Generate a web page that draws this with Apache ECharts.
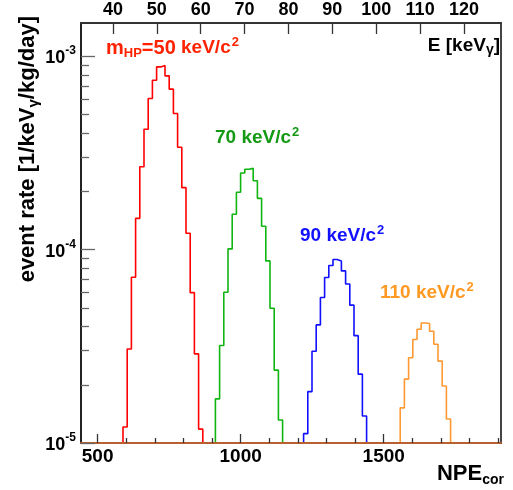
<!DOCTYPE html>
<html><head><meta charset="utf-8">
<script src="https://cdn.jsdelivr.net/npm/echarts@6/dist/echarts.min.js"></script>
<style>html,body{margin:0;padding:0;background:#fff}#c{width:513px;height:490px}</style>
</head><body><div id="c"></div>
<script>
// ---- data ----
const binLow = 442;        // NPE_cor of the first bin edge
const binWidth = 14.68;    // NPE_cor per bin
const binCount = 100;
const emptyLevel = 1e-5;   // bins at or below the axis floor

const redStart = 10;
const redValues = [1.21e-5, 3.06e-5, 7.19e-5, 1.45e-4, 2.68e-4, 4.19e-4, 6.04e-4, 7.51e-4, 8.80e-4, 8.95e-4, 7.91e-4, 6.75e-4, 5.05e-4, 3.38e-4, 2.09e-4, 1.215e-4, 5.99e-5, 2.89e-5, 1.18e-5];
const greenStart = 32;
const greenValues = [1.69e-5, 3.19e-5, 6.02e-5, 1.008e-4, 1.524e-4, 1.98e-4, 2.49e-4, 2.60e-4, 2.63e-4, 2.27e-4, 1.84e-4, 1.32e-4, 8.74e-5, 4.97e-5, 2.38e-5, 1.315e-5];
const blueStart = 53;
const blueValues = [1.118e-5, 1.844e-5, 2.98e-5, 4.08e-5, 5.65e-5, 7.17e-5, 8.27e-5, 8.88e-5, 8.74e-5, 7.76e-5, 6.64e-5, 5.16e-5, 3.59e-5, 2.27e-5, 1.38e-5];
const orangeStart = 76;
const orangeValues = [1.52e-5, 2.14e-5, 2.76e-5, 3.43e-5, 3.87e-5, 4.17e-5, 4.15e-5, 3.78e-5, 3.24e-5, 2.65e-5, 1.97e-5, 1.33e-5];

const seriesNames = ['50 keV/c²', '70 keV/c²', '90 keV/c²', '110 keV/c²'];

const npeRange = [442, 1910];
const npeTicks = [500, 1000, 1500];
const npeMinorTicks = [600, 700, 800, 900, 1100, 1200, 1300, 1400, 1600, 1700, 1800, 1900];
const energyRange = [32.72, 128.43];
const energyTicks = [40, 50, 60, 70, 80, 90, 100, 110, 120];
const rateRange = [0.99999e-5, 1.484e-3];
const rateTicks = [1e-5, 1e-4, 1e-3];
const rateMinorTicks = [2e-5, 3e-5, 4e-5, 5e-5, 6e-5, 7e-5, 8e-5, 9e-5, 2e-4, 3e-4, 4e-4, 5e-4, 6e-4, 7e-4, 8e-4, 9e-4];

// ---- build histogram step data ----
function histogram(start, values) {
  const pts = [];
  for (let k = 0; k < binCount; k++) {
    const i = k - start;
    const v = (i >= 0 && i < values.length) ? values[i] : emptyLevel;
    pts.push([binLow + k * binWidth, v]);
  }
  pts.push([binLow + binCount * binWidth, emptyLevel]);
  return pts;
}

const FONT = '"Liberation Sans", Arial, Helvetica, sans-serif';
const colors = ['#ff0000', '#11b511', '#1010ff', '#ff9933'];
const textColors = ['#ff2200', '#139913', '#1111ff', '#ff9922'];
const hists = [[redStart, redValues], [greenStart, greenValues], [blueStart, blueValues], [orangeStart, orangeValues]];

const chart = echarts.init(document.getElementById('c'), null, {renderer: 'canvas'});

function supLabel(value) {
  let e = value;
  if (value > 0) e = Math.round(Math.log10(value));
  e = Math.round(e);
  return '{b|10}{s|' + e + '}';
}
function plainLabel(value) { return String(Math.round(value)); }

function massLabel(x, y, color, prefix) {
  return {type: 'text', x: x, y: y, z: 10,
    style: {text: prefix + '{a| keV/c}{s|2}', align: 'left', verticalAlign: 'middle',
      rich: {
        a: {fontFamily: FONT, fontWeight: 'bold', fontSize: 19, fill: color, lineHeight: 24},
        m: {fontFamily: FONT, fontWeight: 'bold', fontSize: 20, fill: color, lineHeight: 24},
        h: {fontFamily: FONT, fontWeight: 'bold', fontSize: 13, fill: color, lineHeight: 24, verticalAlign: 'bottom', padding: [6, 0, 0, 0]},
        s: {fontFamily: FONT, fontWeight: 'bold', fontSize: 13, fill: color, lineHeight: 24, verticalAlign: 'top', padding: [0, 0, 9, 1]}
      }}};
}

const option = {
  animation: false,
  grid: {left: 81, right: 12, top: 23, bottom: 47, show: true, borderColor: '#444', borderWidth: 2, backgroundColor: 'transparent'},
  xAxis: [
    {
      type: 'value', position: 'bottom', min: npeRange[0], max: npeRange[1], z: 5,
      axisLine: {show: true, onZero: false, lineStyle: {color: '#b8602e', width: 2}},
      axisTick: {show: true, inside: true, length: 9, customValues: npeTicks, lineStyle: {color: '#333', width: 1.3}},
      axisLabel: {show: true, customValues: npeTicks, formatter: plainLabel, margin: 4, fontFamily: FONT, fontWeight: 'bold', fontSize: 19, color: '#000'},
      splitLine: {show: false}
    },
    {
      type: 'value', position: 'bottom', min: npeRange[0], max: npeRange[1], z: 5,
      axisLine: {show: false},
      axisTick: {show: true, inside: true, length: 5, customValues: npeMinorTicks, lineStyle: {color: '#333', width: 1.3}},
      axisLabel: {show: false},
      splitLine: {show: false}
    },
    {
      type: 'value', position: 'top', min: energyRange[0], max: energyRange[1], z: 5,
      axisLine: {show: true, onZero: false, lineStyle: {color: '#333', width: 2}},
      axisTick: {show: true, inside: true, length: 11, customValues: energyTicks, lineStyle: {color: '#333', width: 1.3}},
      axisLabel: {show: true, customValues: energyTicks, formatter: plainLabel, margin: 4, fontFamily: FONT, fontWeight: 'bold', fontSize: 18, color: '#000'},
      splitLine: {show: false}
    }
  ],
  yAxis: [
    {
      type: 'log', logBase: 10, min: rateRange[0], max: rateRange[1], position: 'left', z: 5,
      axisLine: {show: true, onZero: false, lineStyle: {color: '#222', width: 2}},
      axisTick: {show: true, inside: true, length: 14, customValues: rateTicks, lineStyle: {color: '#666', width: 1.3}},
      axisLabel: {show: true, customValues: rateTicks, margin: 5, formatter: supLabel,
        rich: {
          b: {fontFamily: FONT, fontWeight: 'bold', fontSize: 18, color: '#000', lineHeight: 22, verticalAlign: 'bottom'},
          s: {fontFamily: FONT, fontWeight: 'bold', fontSize: 12, color: '#000', lineHeight: 22, verticalAlign: 'top', padding: [0, 0, 8, 0]}
        }},
      splitLine: {show: false}
    },
    {
      type: 'log', logBase: 10, min: rateRange[0], max: rateRange[1], position: 'left', z: 5,
      axisLine: {show: false},
      axisTick: {show: true, inside: true, length: 8, customValues: rateMinorTicks, lineStyle: {color: '#666', width: 1.3}},
      axisLabel: {show: false},
      splitLine: {show: false}
    }
  ],
  series: hists.map((h, i) => ({
    name: seriesNames[i],
    type: 'line', step: 'end', xAxisIndex: 0, yAxisIndex: 0,
    showSymbol: false, symbol: 'none',
    data: histogram(h[0], h[1]),
    lineStyle: {color: colors[i], width: 1.6},
    itemStyle: {color: colors[i]},
    z: 2 + i * 0.01
  })),
  graphic: [
    {type: 'text', x: 28, y: 16, rotation: Math.PI / 2, z: 10,
      style: {text: '{t|event rate [1/keV}{g|γ}{t|/kg/day]}', align: 'right', verticalAlign: 'middle',
        rich: {
          t: {fontFamily: FONT, fontWeight: 'bold', fontSize: 22, fill: '#000', lineHeight: 26},
          g: {fontFamily: FONT, fontWeight: 'bold', fontSize: 15, fill: '#000', lineHeight: 26, verticalAlign: 'bottom', padding: [6, 0, 0, 0]}
        }}},
    {type: 'text', x: 504, y: 474, z: 10,
      style: {text: '{a|NPE}{b|cor}', align: 'right', verticalAlign: 'middle',
        rich: {
          a: {fontFamily: FONT, fontWeight: 'bold', fontSize: 22, fill: '#000', lineHeight: 26},
          b: {fontFamily: FONT, fontWeight: 'bold', fontSize: 14, fill: '#000', lineHeight: 26, verticalAlign: 'bottom', padding: [8, 0, 0, 0]}
        }}},
    {type: 'text', x: 500, y: 46, z: 10,
      style: {text: '{a|E [keV}{b|γ}{a|]}', align: 'right', verticalAlign: 'middle',
        rich: {
          a: {fontFamily: FONT, fontWeight: 'bold', fontSize: 19, fill: '#000', lineHeight: 22},
          b: {fontFamily: FONT, fontWeight: 'bold', fontSize: 14, fill: '#000', lineHeight: 22, verticalAlign: 'bottom', padding: [5, 0, 0, 0]}
        }}},
    massLabel(106, 48, textColors[0], '{m|m}{h|HP}{m|=50}'),
    massLabel(215, 138, textColors[1], '{a|70}'),
    massLabel(300, 236, textColors[2], '{a|90}'),
    massLabel(380, 293, textColors[3], '{a|110}')
  ]
};
chart.setOption(option);
</script>
</body></html>
